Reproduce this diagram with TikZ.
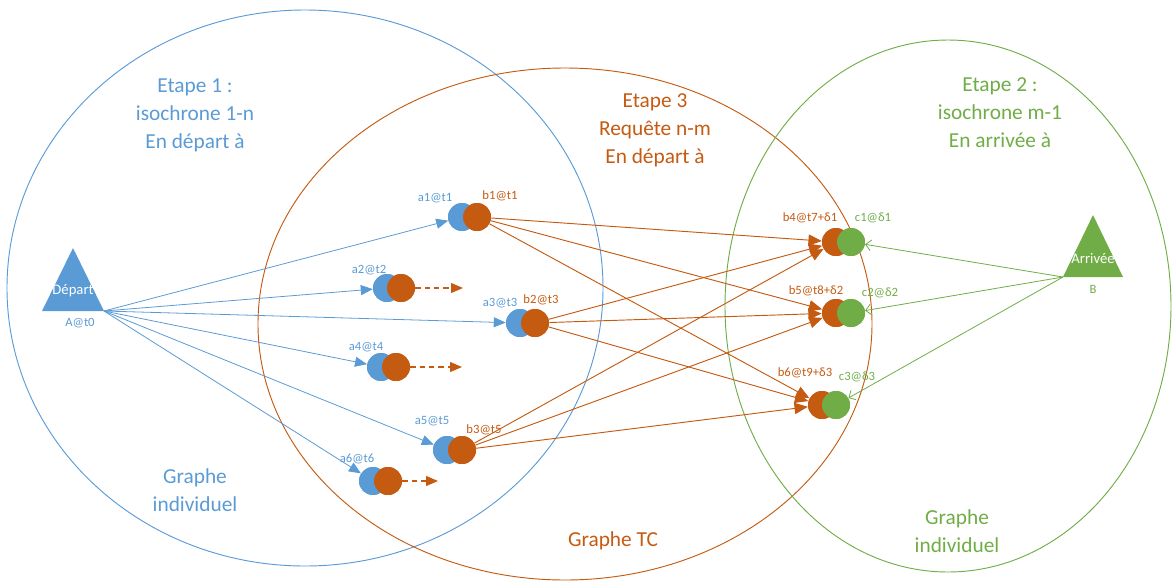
\documentclass[tikz,border=0pt]{standalone}
\usepackage{fontspec}
\setmainfont{Carlito}
\usetikzlibrary{arrows.meta}
\definecolor{cblue}{HTML}{5B9BD5}
\definecolor{corange}{HTML}{C55A11}
\definecolor{cgreen}{HTML}{70AD47}
\begin{document}
\begin{tikzpicture}[x=0.75pt,y=-0.75pt,
  big/.style={font=\fontsize{16}{21}\selectfont, align=center},
  small/.style={font=\fontsize{9.5}{11}\selectfont, inner sep=0pt},
  dotb/.style={circle, fill=cblue, minimum size=21pt, inner sep=0pt},
  doto/.style={circle, fill=corange, minimum size=21pt, inner sep=0pt},
  dotg/.style={circle, fill=cgreen, minimum size=21pt, inner sep=0pt},
  barrow/.style={cblue, line width=0.6pt, -{Triangle[length=9pt,width=7.5pt]}},
  oarrow/.style={corange, line width=0.7pt, -{Triangle[length=10pt,width=8.5pt]}},
  darrow/.style={corange, line width=0.9pt, dashed, dash pattern=on 4pt off 3pt, -{Triangle[length=9pt,width=7.5pt]}},
  garrow/.style={cgreen, line width=0.6pt, -{Straight Barb[length=4pt,width=8pt]}}
]
\useasboundingbox (0,0) rectangle (1172,583);
% big areas
\draw[cblue, line width=0.7pt] (305,288) ellipse [x radius=298, y radius=278];
\draw[corange, line width=0.7pt] (565,324) ellipse [x radius=307, y radius=256];
\draw[cgreen, line width=0.7pt] (948,306) ellipse [x radius=223, y radius=266];

% area texts
\node[big, text=cblue] (t1) at (195,115) {Etape 1 :\\isochrone 1-n\\En départ à};
\node[big, text=corange] (t3) at (655,130) {Etape 3\\Requête n-m\\En départ à};
\node[big, text=cgreen] (t2) at (1000,113) {Etape 2 :\\isochrone m-1\\En arrivée à};
\node[big, text=cblue] (g1) at (195,490) {Graphe\\individuel};
\node[big, text=corange] (g3) at (613,541) {Graphe TC};
\node[big, text=cgreen] (g2) at (957,531) {Graphe\\individuel};

% triangles
\fill[cblue] (42,311) -- (73,248) -- (104,311) -- cycle;
\coordinate (dep) at (104,311);
\node[font=\fontsize{11}{12}\selectfont, text=white, inner sep=0pt] (deplbl) at (73,291) {Départ};
\node[small, text=cblue] (A) at (80,323) {A@t0};
\fill[cgreen] (1063,277) -- (1093,215) -- (1123,277) -- cycle;
\coordinate (arr) at (1063,277);
\node[font=\fontsize{11}{12}\selectfont, text=white, inner sep=0pt] (arrlbl) at (1093,258) {Arrivée};
\node[small, text=cgreen] (B) at (1093,289) {B};

% left pairs
\node[dotb] (a1) at (462,217) {};
\node[doto] (b1) at (477,217) {};
\node[dotb] (a2) at (387,288) {};
\node[doto] (b2x) at (401,288) {};
\node[dotb] (a3) at (520,323) {};
\node[doto] (b2) at (535,323) {};
\node[dotb] (a4) at (381,367) {};
\node[doto] (b4x) at (396,367) {};
\node[dotb] (a5) at (447,450) {};
\node[doto] (b3) at (462,450) {};
\node[dotb] (a6) at (373,481) {};
\node[doto] (b6x) at (388,481) {};

% right pairs
\node[doto] (b4) at (836,242) {};
\node[dotg] (c1) at (851,242) {};
\node[doto] (b5) at (836,313) {};
\node[dotg] (c2) at (851,313) {};
\node[doto] (b6) at (822,405) {};
\node[dotg] (c3) at (836,405) {};

% labels
\node[small, text=cblue] (la1) at (435,198) {a1@t1};
\node[small, text=corange] (lb1) at (500,196) {b1@t1};
\node[small, text=cblue] (la2) at (369,270) {a2@t2};
\node[small, text=cblue] (la3) at (500,303) {a3@t3};
\node[small, text=corange] (lb2) at (541,300) {b2@t3};
\node[small, text=cblue] (la4) at (366,347) {a4@t4};
\node[small, text=cblue] (la5) at (432,421) {a5@t5};
\node[small, text=corange] (lb3) at (484,430) {b3@t5};
\node[small, text=cblue] (la6) at (357,459) {a6@t6};
\node[small, text=corange] (lb4) at (810,218) {b4@t7+δ1};
\node[small, text=cgreen] (lc1) at (873,218) {c1@δ1};
\node[small, text=corange] (lb5) at (816,291) {b5@t8+δ2};
\node[small, text=cgreen] (lc2) at (880,293) {c2@δ2};
\node[small, text=corange] (lb6) at (805,373) {b6@t9+δ3};
\node[small, text=cgreen] (lc3) at (857,377) {c3@δ3};

% blue arrows
\foreach \t in {a1,a2,a3,a4,a5,a6} \draw[barrow] (dep) -- (\t);

% dashed
\coordinate (e2) at (463,288);
\coordinate (e4) at (462,367);
\coordinate (e6) at (438,481);
\draw[darrow] (b2x) -- (e2);
\draw[darrow] (b4x) -- (e4);
\draw[darrow] (b6x) -- (e6);

% orange arrows
\foreach \s in {b1,b2,b3} \foreach \t in {b4,b5,b6} \draw[oarrow] (\s) -- (\t);

% green arrows
\foreach \t in {c1,c2,c3} \draw[garrow] (arr) -- (\t);

% redraw nodes on top
\node[dotb] at (a1) {}; \node[doto] at (b1) {};
\node[dotb] at (a2) {}; \node[doto] at (b2x) {};
\node[dotb] at (a3) {}; \node[doto] at (b2) {};
\node[dotb] at (a4) {}; \node[doto] at (b4x) {};
\node[dotb] at (a5) {}; \node[doto] at (b3) {};
\node[dotb] at (a6) {}; \node[doto] at (b6x) {};
\node[doto] at (b4) {}; \node[dotg] at (c1) {};
\node[doto] at (b5) {}; \node[dotg] at (c2) {};
\node[doto] at (b6) {}; \node[dotg] at (c3) {};
\end{tikzpicture}
\end{document}
